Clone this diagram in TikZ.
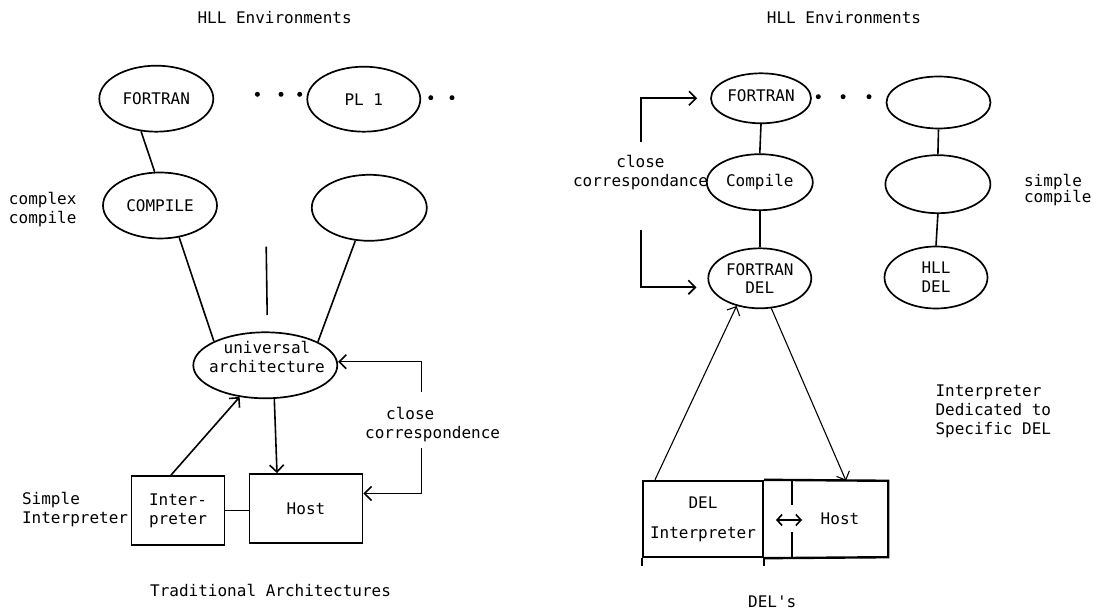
\documentclass[tikz,border=0pt]{standalone}
\usepackage{fontspec}
\setmonofont{DejaVu Sans Mono}
\usetikzlibrary{shapes.geometric,arrows.meta}
\begin{document}
\begin{tikzpicture}[x=1pt,y=-1pt,
  every node/.style={font=\ttfamily\fontsize{16}{19}\selectfont, inner sep=0pt},
  ell/.style={draw, ellipse, line width=1.7pt, inner sep=0pt},
  box/.style={draw, rectangle, line width=1.8pt},
  conn/.style={line width=1.6pt},
  thinline/.style={line width=1.1pt},
  heavy/.style={line width=2.4pt},
  arr/.style={-{Straight Barb[length=7pt,width=14pt]}},
  dot/.style={circle, fill, inner sep=0pt, minimum size=5pt},
  lbl/.style={align=left, anchor=west},
]
\path[use as bounding box, fill=white] (0,0) rectangle (1093,612);

% ---------------- left: traditional architectures ----------------
\node (t1) at (274.6,17.3) {HLL Environments};
\node[ell, minimum width=114, minimum height=66] (f1) at (156.3,98.7) {FORTRAN};
\node[ell, minimum width=113, minimum height=65] (pl) at (363.8,99.2) {PL 1};
\node[ell, minimum width=114, minimum height=66] (c1) at (160,205.5) {COMPILE};
\node[ell, minimum width=115, minimum height=66] (e2) at (369.3,207.8) {};
\node[ell, minimum width=144, minimum height=66] (ua) at (265.3,365.3) {};
\node[align=center] (uat) at (267,356.5) {universal\\architecture};

\node[dot] (d1) at (257.4,94.3) {};
\node[dot] (d2) at (281,94.3) {};
\node[dot] (d3) at (299.7,94.3) {};
\node[dot] (d4) at (430.8,97.7) {};
\node[dot] (d5) at (452,97.7) {};

\node[lbl] (cl) at (8.8,210) {complex\\compile};

\node[box, minimum width=93, minimum height=69, align=center] (ib) at (178,510.5) {Inter-\\preter};
\node[box, minimum width=113, minimum height=69] (hb) at (306,508.5) {Host};
\node[lbl] (sl) at (21.9,510) {Simple\\Interpreter};
\node[lbl] (ccl) at (365,425) {\hspace*{21pt}close\\correspondence};
\node (t2) at (270.6,590) {Traditional Architectures};

\draw[conn] (f1.245) -- (c1.99);
\draw[conn] (c1.301) -- (ua.155);
\coordinate (vt) at (266.2,246.7);
\coordinate (vb) at (267.2,315);
\draw[conn] (vt) -- (vb);
\draw[conn] (e2.247) -- (ua.24);
\draw[conn,arr] ([xshift=-7pt]ib.north) -- (ua.231);
\draw[conn,arr] (ua.285) -- ([xshift=-29pt]hb.north);
\coordinate (cca) at (421.3,391.7);
\coordinate (ccb) at (421.3,448.3);
\draw[conn,arr] (cca) |- ([yshift=3.6pt]ua.east);
\draw[conn,arr] (ccb) |- ([yshift=15pt]hb.east);
\draw[conn] (ib.east) -- (ib.east -| hb.west);

% ---------------- right: DEL's ----------------
\node (t3) at (844,17.3) {HLL Environments};
\node[ell, minimum width=100, minimum height=50] (rf) at (761,98.3) {\raisebox{5pt}{FORTRAN}};
\node[ell, minimum width=106, minimum height=56] (rc) at (759.8,182.2) {Compile};
\node[ell, minimum width=103, minimum height=60, align=center] (rd) at (759.8,278.3) {FORTRAN\\[-1pt]DEL};
\node[ell, minimum width=104, minimum height=52] (r1) at (938.5,102.5) {};
\node[ell, minimum width=105, minimum height=58] (r2) at (937.9,184.2) {};
\node[ell, minimum width=103, minimum height=62, align=center] (rh) at (936,277.5) {HLL\\DEL};

\node[dot] (d6) at (818.3,96.7) {};
\node[dot] (d7) at (843.1,96.7) {};
\node[dot] (d8) at (869,96.7) {};

\draw[conn] (rf.south) -- (rc.north);
\draw[conn] (rc.south) -- (rd.north);
\draw[conn] (r1.south) -- (r2.north);
\draw[conn] (r2.south) -- (rh.north);

\coordinate (bt) at (641,141.7);
\coordinate (bb) at (641,230);
\draw[conn,arr,shorten >=13pt] (bt) |- (rf.west);
\draw[conn,arr,shorten >=11pt] (bb) |- ([yshift=-9pt]rd.west);
\node[align=center] (ccr) at (640.5,172.2) {close\\correspondance};

\node[lbl, font=\ttfamily\fontsize{16}{14}\selectfont] (sc) at (1023.9,190) {simple\\compile};
\node[lbl] (idl) at (935.3,411) {Interpreter\\Dedicated to\\Specific DEL};

\node[box, heavy, minimum width=120, minimum height=76, align=center] (dib) at (703,519) {DEL\\[11pt]Interpreter};
\node[minimum width=96, minimum height=76] (hr) at (840,519) {Host};
\draw[heavy] (dib.north east) -- (hr.north east) -- (hr.south east) -- (dib.south east);
\draw[heavy] (hr.north west) -- ++(0,24);
\draw[heavy] (hr.south west) -- ++(0,-25);
\draw[heavy] (dib.south west) -- ++(0,8);
\draw[heavy] (dib.south east) -- ++(0,8);
\coordinate (xa) at (776,520);
\coordinate (xb) at (802,520);
\draw[conn, {Straight Barb[length=5pt,width=11pt]}-{Straight Barb[length=5pt,width=11pt]}] (xa) -- (xb);

\draw[thinline,arr] ([xshift=-48pt]dib.north) -- (rd.230);
\draw[thinline,arr] (rd.291) -- ([xshift=6pt]hr.north);

\node (t4) at (772.2,601.7) {DEL's};
\end{tikzpicture}
\end{document}
